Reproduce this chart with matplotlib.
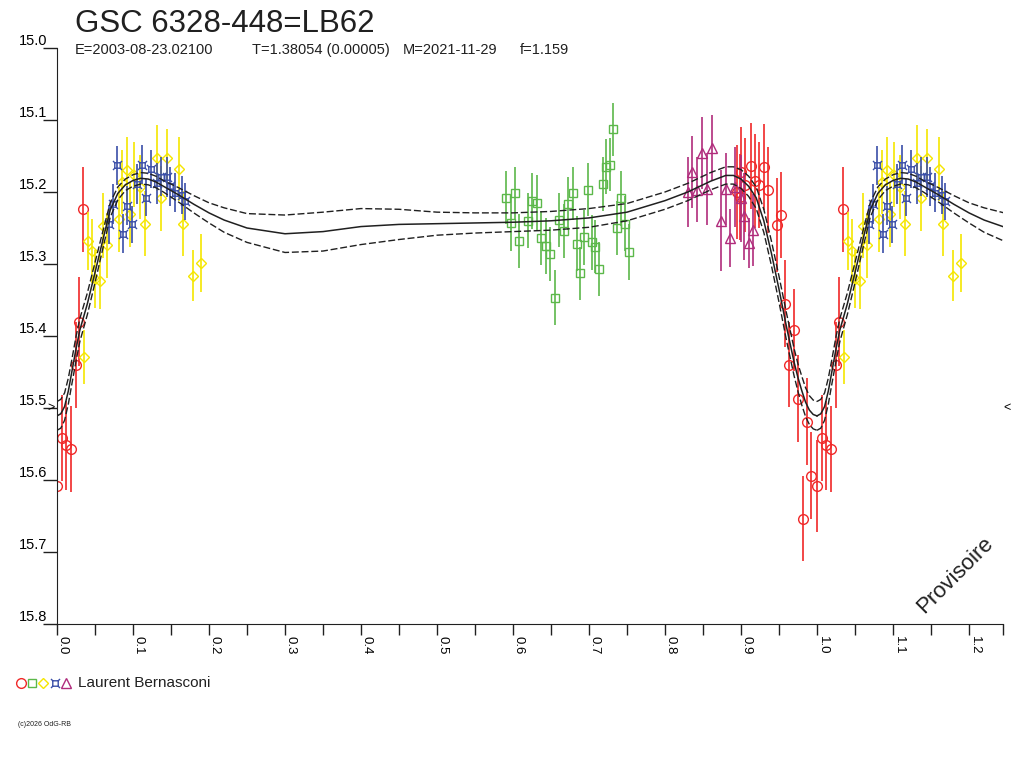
import matplotlib
matplotlib.use('Agg')
import matplotlib.pyplot as plt
from matplotlib.lines import Line2D
from matplotlib.path import Path
import numpy as np

plt.rcParams['font.family'] = ['Liberation Sans', 'DejaVu Sans']

titre = 'GSC 6328-448=LB62'
elements = ['E=2003-08-23.02100', 'T=1.38054 (0.00005)', 'M=2021-11-29', 'f=1.159']
observateur = 'Laurent Bernasconi'

# mesures : phase, magnitude, erreur
rouge_phase = [0.0005, 0.0062, 0.0118, 0.0184, 0.0246, 0.0294, 0.0347,
               0.8943, 0.8987, 0.900, 0.905, 0.9132, 0.918, 0.924, 0.9303, 0.936,
               0.947, 0.9526, 0.958, 0.963, 0.9697, 0.975, 0.981, 0.9864, 0.992]
rouge_mag = [15.608, 15.542, 15.552, 15.557, 15.440, 15.380, 15.224,
             15.200, 15.207, 15.172, 15.190, 15.164, 15.185, 15.190, 15.165, 15.197,
             15.246, 15.232, 15.355, 15.440, 15.392, 15.487, 15.654, 15.519, 15.594]
rouge_err = [0.064, 0.060, 0.062, 0.060, 0.060, 0.062, 0.059,
             0.065, 0.060, 0.062, 0.065, 0.060, 0.065, 0.060, 0.060, 0.060,
             0.065, 0.060, 0.060, 0.059, 0.057, 0.060, 0.059, 0.060, 0.060]

vert_phase = [0.5908, 0.597, 0.6022, 0.6083, 0.620, 0.6254, 0.631, 0.6368, 0.6434, 0.6487,
              0.6548, 0.6609, 0.6671, 0.6728, 0.6785, 0.6838, 0.6882, 0.6934, 0.6983, 0.7035,
              0.708, 0.7132, 0.718, 0.7228, 0.7276, 0.732, 0.7373, 0.7425, 0.7474, 0.7526]
vert_mag = [15.208, 15.243, 15.202, 15.268, 15.240, 15.213, 15.215, 15.264, 15.275, 15.286,
            15.347, 15.239, 15.254, 15.216, 15.202, 15.272, 15.313, 15.263, 15.197, 15.270,
            15.276, 15.307, 15.189, 15.165, 15.162, 15.113, 15.250, 15.209, 15.244, 15.283]
vert_err = [0.037, 0.039, 0.037, 0.037, 0.038, 0.039, 0.038, 0.038, 0.039, 0.038,
            0.038, 0.037, 0.038, 0.037, 0.037, 0.038, 0.037, 0.038, 0.037, 0.038,
            0.037, 0.038, 0.038, 0.038, 0.037, 0.037, 0.037, 0.038, 0.038, 0.039]

jaune_phase = [0.036, 0.0412, 0.0456, 0.050, 0.0566, 0.0601, 0.0654, 0.082, 0.0851, 0.0917,
               0.096, 0.1013, 0.109, 0.1158, 0.131, 0.1368, 0.1452, 0.1605, 0.1654, 0.179, 0.189]
jaune_mag = [15.429, 15.268, 15.282, 15.321, 15.323, 15.247, 15.274, 15.238, 15.186, 15.169,
             15.231, 15.176, 15.193, 15.244, 15.153, 15.209, 15.153, 15.168, 15.244, 15.316, 15.299]
jaune_err = [0.037, 0.040, 0.045, 0.040, 0.040, 0.045, 0.045, 0.045, 0.045, 0.045,
             0.045, 0.045, 0.045, 0.045, 0.046, 0.045, 0.040, 0.045, 0.045, 0.035, 0.040]

bleu_phase = [0.0688, 0.0741, 0.0794, 0.0864, 0.0917, 0.0982, 0.1057, 0.1114, 0.1171,
              0.1237, 0.131, 0.1368, 0.1443, 0.1487, 0.1553, 0.164, 0.1684]
bleu_mag = [15.245, 15.217, 15.163, 15.258, 15.219, 15.245, 15.189, 15.162, 15.208,
            15.168, 15.188, 15.179, 15.179, 15.192, 15.201, 15.204, 15.213]
bleu_err = [0.027, 0.028, 0.027, 0.027, 0.027, 0.026, 0.028, 0.027, 0.026,
            0.027, 0.028, 0.027, 0.028, 0.027, 0.027, 0.026, 0.026]

mauve_phase = [0.8307, 0.836, 0.8425, 0.849, 0.8548, 0.8614, 0.8737, 0.8798, 0.8855,
               0.892, 0.900, 0.9044, 0.9105, 0.916]
mauve_mag = [15.200, 15.172, 15.197, 15.146, 15.196, 15.139, 15.240, 15.196, 15.264,
             15.193, 15.209, 15.234, 15.271, 15.253]
mauve_err = [0.049, 0.050, 0.045, 0.050, 0.050, 0.046, 0.070, 0.050, 0.040,
             0.055, 0.060, 0.060, 0.035, 0.050]

# courbe ajustee et incertitude
fit_phase = [0.000, 0.005, 0.010, 0.015, 0.020, 0.025, 0.03, 0.04, 0.05, 0.06, 0.07, 0.08,
             0.09, 0.10, 0.11, 0.12, 0.13, 0.14, 0.15, 0.16, 0.18, 0.20, 0.22, 0.25, 0.30,
             0.35, 0.40, 0.45, 0.50, 0.55, 0.60, 0.65, 0.70, 0.75, 0.80, 0.83, 0.86, 0.88,
             0.89, 0.90, 0.91, 0.92, 0.93, 0.94, 0.95, 0.96, 0.97, 0.975, 0.98, 0.985,
             0.99, 0.995, 1.000]
fit_mag = [15.511, 15.508, 15.498, 15.476, 15.447, 15.418, 15.392, 15.355, 15.312, 15.268,
           15.225, 15.202, 15.190, 15.184, 15.181, 15.182, 15.186, 15.192, 15.198, 15.204,
           15.217, 15.229, 15.239, 15.250, 15.258, 15.255, 15.248, 15.245, 15.244, 15.243,
           15.242, 15.240, 15.236, 15.228, 15.212, 15.200, 15.185, 15.177, 15.177, 15.182,
           15.192, 15.208, 15.240, 15.285, 15.335, 15.388, 15.437, 15.458, 15.476, 15.492,
           15.503, 15.509, 15.511]
fit_err = [0.020, 0.020, 0.019, 0.018, 0.017, 0.017, 0.016, 0.015, 0.014, 0.012,
           0.010, 0.009, 0.008, 0.008, 0.008, 0.008, 0.008, 0.008, 0.009, 0.010,
           0.012, 0.014, 0.017, 0.020, 0.026, 0.027, 0.025, 0.021, 0.016, 0.014,
           0.013, 0.013, 0.013, 0.012, 0.012, 0.012, 0.012, 0.012, 0.012, 0.013,
           0.014, 0.015, 0.016, 0.017, 0.018, 0.019, 0.019, 0.019, 0.020, 0.020,
           0.020, 0.020, 0.020]

# symbole bleu : carre avec petites cornes
v = [(-0.6, -0.6), (0.6, -0.6), (0.6, 0.6), (-0.6, 0.6), (-0.6, -0.6),
     (0.6, 0.6), (1.0, 1.0), (-0.6, 0.6), (-1.0, 1.0),
     (0.6, -0.6), (1.0, -1.0), (-0.6, -0.6), (-1.0, -1.0)]
c = [Path.MOVETO, Path.LINETO, Path.LINETO, Path.LINETO, Path.CLOSEPOLY,
     Path.MOVETO, Path.LINETO, Path.MOVETO, Path.LINETO,
     Path.MOVETO, Path.LINETO, Path.MOVETO, Path.LINETO]
marque_bleu = Path(v, c)

series = [
    (rouge_phase, rouge_mag, rouge_err, 'o', '#F02828', 7.0),
    (vert_phase, vert_mag, vert_err, 's', '#5CB84A', 6.0),
    (jaune_phase, jaune_mag, jaune_err, 'D', '#F5E600', 5.5),
    (bleu_phase, bleu_mag, bleu_err, marque_bleu, '#3A4EA8', 6.5),
    (mauve_phase, mauve_mag, mauve_err, '^', '#B02C7C', 6.5),
]

xmax = 946 / 760

fig = plt.figure(figsize=(10.24, 7.68), dpi=100)
ax = fig.add_axes([57 / 1024, 144 / 768, 946 / 1024, 576 / 768])

for ph, mag, err, mk, col, ms in series:
    x = list(ph) + [p + 1 for p in ph]
    y = list(mag) * 2
    e = list(err) * 2
    ax.errorbar(x, y, yerr=e, fmt='none', ecolor=col, elinewidth=1.2, capsize=0, zorder=2)
    ax.plot(x, y, ls='none', marker=mk, mfc='none', mec=col, mew=1.0, ms=ms, zorder=2)

fp = np.array(fit_phase)
fm = np.array(fit_mag)
fe = np.array(fit_err)
for k in (0, 1):
    ax.plot(fp + k, fm, color='#202020', lw=1.1, zorder=3)
    ax.plot(fp + k, fm - fe, color='#202020', lw=1.0, ls=(0, (5, 2)), zorder=3)
    ax.plot(fp + k, fm + fe, color='#202020', lw=1.0, ls=(0, (5, 2)), zorder=3)

ax.set_xlim(0, xmax)
ax.set_ylim(15.8, 15.0)

ax.spines['top'].set_visible(False)
ax.spines['right'].set_visible(False)
ax.spines['left'].set_color('#202020')
ax.spines['bottom'].set_color('#202020')

graduations = [round(0.1 * i, 1) for i in range(13)]
ax.set_xticks(graduations)
ax.set_xticklabels([f'{g:.1f}' for g in graduations])
ax.set_xticks([0.05 + 0.1 * i for i in range(12)] + [xmax], minor=True)
ax.tick_params(axis='x', which='both', direction='out', length=8, width=1,
               color='#202020', labelsize=9.5, pad=1)
for lab in ax.get_xticklabels():
    lab.set_rotation(270)
    lab.set_ha('left')
    lab.set_va('top')

niveaux = [15.0, 15.1, 15.2, 15.3, 15.4, 15.5, 15.6, 15.7, 15.8]
ax.set_yticks(niveaux)
ax.set_yticklabels([f'{n:.1f}' for n in niveaux])
ax.tick_params(axis='y', direction='out', length=10, width=1, color='#202020',
               labelsize=10.5, pad=-3)
for lab in ax.get_yticklabels():
    lab.set_va('bottom')

ax.text(-0.003, 15.5, '>', ha='right', va='center', fontsize=9, clip_on=False)
ax.text(1.250, 15.5, '<', ha='center', va='center', fontsize=9, clip_on=False)

fig.text(75 / 1024, 1 - 32 / 768, titre, fontsize=22.5, va='baseline', color='#202020')
for txt, xp in zip(elements, [75, 252, 403, 520]):
    fig.text(xp / 1024, 1 - 54 / 768, txt, fontsize=10.5, va='baseline', color='#202020')

fig.text(955 / 1024, 1 - 575 / 768, 'Provisoire', rotation=45, ha='center', va='center',
         fontsize=16, color='#202020')

# legende
for (ph, mag, err, mk, col, ms), xp in zip(series, [21, 32, 43, 55, 66]):
    fig.add_artist(Line2D([xp / 1024], [1 - 683 / 768], transform=fig.transFigure,
                          marker=mk, ls='none', mfc='none', mec=col, mew=1.0, ms=ms))
fig.text(78 / 1024, 1 - 683 / 768, observateur, fontsize=11, va='center', color='#202020')
fig.text(18 / 1024, 1 - 725 / 768, '(c)2026 OdG-RB', fontsize=5, va='center', color='#202020')

fig.savefig('out.png', dpi=100)
